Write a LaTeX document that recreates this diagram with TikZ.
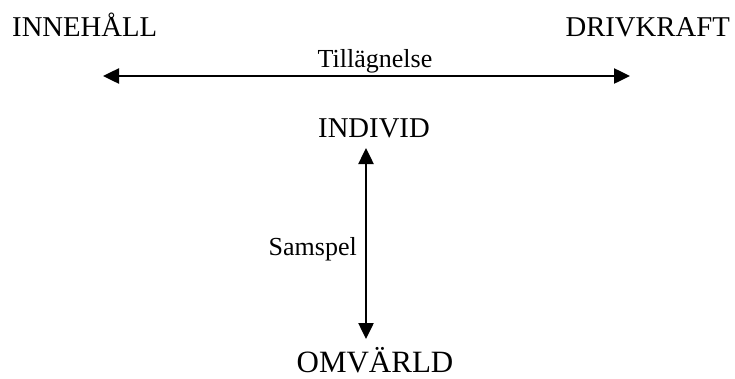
\documentclass[tikz,border=0pt]{standalone}
\usepackage{fontspec}
\setmainfont{Liberation Serif}
\usetikzlibrary{arrows.meta}
\begin{document}
\begin{tikzpicture}[x=1pt,y=-1pt,
  big/.style={inner sep=0pt,anchor=base,font=\fontsize{28.7}{30}\selectfont},
  bigger/.style={inner sep=0pt,anchor=base,font=\fontsize{31}{33}\selectfont},
  lbl/.style={inner sep=0pt,anchor=base,font=\fontsize{26}{28}\selectfont},
  dbl/.style={line width=2.5pt,{Triangle[length=16pt,width=15pt]}-{Triangle[length=16pt,width=15pt]}}]
\useasboundingbox (0,0) rectangle (735,378);
\node[big,anchor=base west] (inn) at (12,36) {INNEHÅLL};
\node[big,anchor=base east] (drv) at (730,36) {DRIVKRAFT};
\node[lbl] (till) at (375,67) {Tillägnelse};
\coordinate (hl) at (103,76);
\coordinate (hr) at (630,76);
\draw[dbl] (hl) -- (hr);
\node[big] (ind) at (374,137) {INDIVID};
\coordinate (vt) at (366,148);
\coordinate (vb) at (366,339);
\draw[dbl] (vt) -- (vb);
\node[lbl,anchor=base east] (sam) at (357,255) {Samspel};
\node[bigger] (omv) at (375,372) {OMVÄRLD};
\end{tikzpicture}
\end{document}
